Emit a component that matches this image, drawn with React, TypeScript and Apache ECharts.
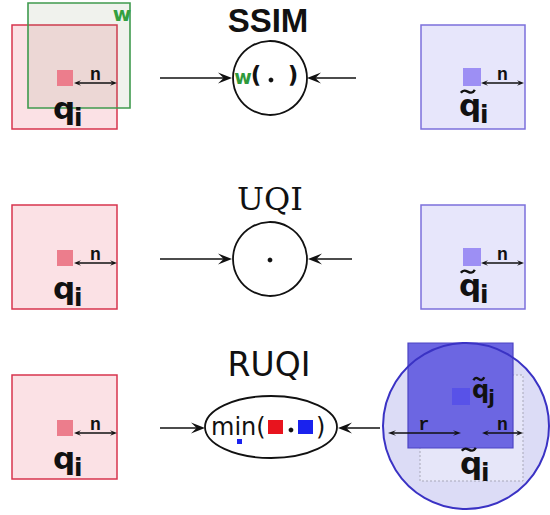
import React, { useEffect, useRef } from "react";
import * as echarts from "echarts";

// ---- diagram content ----
const measureNames = ["SSIM", "UQI", "RUQI"];
const refSymbol = "q";
const refIndex = "i";
const neighbourIndex = "j";
const windowLabel = "w";
const halfSizeLabel = "n";
const radiusLabel = "r";
const minLabel = "min(";
const closeParen = ")";

const INK = "#111111";
const RED_EDGE = "#d8344e";
const RED_FILL = "#fbe1e5";
const RED_DOT = "#ec7d8c";
const BLUE_EDGE = "#7c70dc";
const BLUE_FILL = "#e7e6fb";
const BLUE_DOT = "#9d8ff4";
const SANS = "DejaVu Sans";

function line(x1: number, y1: number, x2: number, y2: number, w = 1.5, color = INK): any {
  return { type: "line", shape: { x1, y1, x2, y2 }, style: { stroke: color, lineWidth: w } };
}

function head(tx: number, ty: number, dir: number, L = 13, W = 5): any {
  return {
    type: "polygon",
    shape: { points: [[tx, ty], [tx - dir * L, ty - W], [tx - dir * L * 0.6, ty], [tx - dir * L, ty + W]] },
    style: { fill: INK },
  };
}

function arrow(x1: number, x2: number, y: number): any[] {
  const dir = x2 > x1 ? 1 : -1;
  return [line(x1, y, x2 - dir * 6, y, 1.6), head(x2, y, dir, 14, 5.5)];
}

function dblArrow(x1: number, x2: number, y: number, label: string): any[] {
  return [
    line(x1 + 3, y, x2 - 3, y, 1.3),
    head(x1, y, -1, 7, 2.8),
    head(x2, y, 1, 7, 2.8),
    {
      type: "text",
      x: (x1 + x2) / 2,
      y: y - 8,
      style: { text: label, fill: INK, fontFamily: "Liberation Mono", fontWeight: "bold", fontSize: 18, textAlign: "center", textVerticalAlign: "middle" },
    },
  ];
}

function text(x: number, y: number, t: string, size: number, opts: any = {}): any {
  return {
    type: "text",
    x,
    y,
    style: {
      text: t,
      fill: opts.fill || INK,
      fontFamily: opts.family || SANS,
      fontWeight: opts.weight || "normal",
      fontSize: size,
      textAlign: opts.align || "center",
      textVerticalAlign: "middle",
    },
  };
}

// q symbol: x0 = left of q, top = top of bowl
function qSym(x0: number, top: number, size: number, sub: string, tilde: boolean): any[] {
  const out: any[] = [];
  const cy = top + size * 0.2 + 2;
  out.push(text(x0, cy, refSymbol, size, { weight: "bold", align: "left" }));
  out.push(text(x0 + size * 0.68, cy + size * 0.3, sub, size * 0.8, { weight: "bold", align: "left" }));
  if (tilde) {
    const w = size * 0.45;
    const tx = x0 + size * 0.06;
    const ty = top - size * 0.2;
    out.push({
      type: "bezierCurve",
      shape: { x1: tx, y1: ty + 2, cpx1: tx + w * 0.35, cpy1: ty - 5, cpx2: tx + w * 0.65, cpy2: ty + 7, x2: tx + w, y2: ty - 1 },
      style: { stroke: INK, lineWidth: 2.4, fill: "none" },
    });
  }
  return out;
}

function rect(x: number, y: number, w: number, h: number, fill: string, stroke: string, lw = 1.5, dash?: number[]): any {
  return { type: "rect", shape: { x, y, width: w, height: h }, style: { fill, stroke, lineWidth: lw, lineDash: dash } };
}

function buildElements(): any[] {
  const els: any[] = [];
  const rowTop = [25, 205, 375];
  const circleY = [78, 259, 427];

  // ---------- left (reference) squares ----------
  rowTop.forEach((t, k) => {
    els.push(rect(12, t, 105, 104, RED_FILL, RED_EDGE, 1.5));
    if (k === 0) {
      els.push(rect(28, 3, 102, 105, "rgba(120,140,90,0.11)", "#3f9a4e", 1.6));
      els.push(text(122, 14, windowLabel, 20, { weight: "bold", fill: "#33a040" }));
    }
    els.push(rect(57, t + 45, 16, 16, RED_DOT, "none", 0));
    els.push(...dblArrow(74, 117, t + 58, halfSizeLabel));
    els.push(...qSym(53, t + 75, 31, refIndex, false));
  });

  // ---------- right (distorted) squares, rows 1-2 ----------
  [25, 205].forEach((t) => {
    els.push(rect(421, t, 104, 104, BLUE_FILL, BLUE_EDGE, 1.5));
    els.push(rect(463, t + 43, 18, 18, BLUE_DOT, "none", 0));
    els.push(...dblArrow(481, 524, t + 58, halfSizeLabel));
    els.push(...qSym(459, t + 72, 31, refIndex, true));
  });

  // ---------- titles ----------
  els.push(text(268, 20, measureNames[0], 33, { weight: "bold", family: "Liberation Sans" }));
  els.push(text(270, 199, measureNames[1], 32, { family: "DejaVu Serif" }));
  els.push(text(269, 364, measureNames[2], 33, { family: SANS }));

  // ---------- SSIM ----------
  els.push({ type: "circle", shape: { cx: 270, cy: circleY[0], r: 37 }, style: { fill: "#ffffff", stroke: INK, lineWidth: 1.8 } });
  els.push(text(243, 77, windowLabel, 19, { weight: "bold", fill: "#2f9a3c" }));
  els.push(text(256, 75, "(", 23, { weight: "bold" }));
  els.push({ type: "circle", shape: { cx: 271, cy: 80, r: 2.4 }, style: { fill: INK } });
  els.push(text(293, 75, ")", 23, { weight: "bold" }));
  els.push(...arrow(160, 232, 78));
  els.push(...arrow(356, 307, 78));

  // ---------- UQI ----------
  els.push({ type: "circle", shape: { cx: 270, cy: circleY[1], r: 37 }, style: { fill: "#ffffff", stroke: INK, lineWidth: 1.8 } });
  els.push({ type: "circle", shape: { cx: 270, cy: 260, r: 2.4 }, style: { fill: INK } });
  els.push(...arrow(160, 232, 259));
  els.push(...arrow(352, 308, 259));

  // ---------- RUQI ----------
  els.push({ type: "ellipse", shape: { cx: 271, cy: circleY[2], rx: 66, ry: 31 }, style: { fill: "#ffffff", stroke: INK, lineWidth: 1.8 } });
  els.push(text(211, 427, minLabel, 24, { align: "left", weight: "500" }));
  els.push(rect(268, 420, 15, 14, "#e8141e", "none", 0));
  els.push({ type: "circle", shape: { cx: 291, cy: 430, r: 2.4 }, style: { fill: INK } });
  els.push(rect(298, 420, 15, 14, "#1a22ee", "none", 0));
  els.push(text(316, 427, closeParen, 24, { align: "left" }));
  els.push(rect(237, 439, 5, 5, "#1a22ee", "none", 0));
  els.push(...arrow(160, 205, 428));
  els.push(...arrow(380, 338, 428));

  // ---------- RUQI neighbourhood ----------
  els.push({ type: "circle", shape: { cx: 466, cy: 426, r: 83 }, style: { fill: "#dcdcf6", stroke: "none" } });
  els.push(rect(420, 375, 103, 106, "#e6e6f9", "#a8a8b8", 1, [2, 2]));
  els.push(rect(408, 343, 105, 105, "#6c66e2", "#4c44c4", 1.2));
  els.push(rect(452, 388, 18, 17, "#5852e8", "none", 0));
  els.push(...qSym(472, 383, 24, neighbourIndex, true));
  els.push({ type: "circle", shape: { cx: 466, cy: 426, r: 83 }, style: { fill: "none", stroke: "#3a32c4", lineWidth: 2 } });
  els.push(line(391, 433, 456, 433, 1.3));
  els.push(head(388, 433, -1, 8, 2.8));
  els.push(head(461, 433, 1, 8, 2.8));
  els.push(text(424, 425, radiusLabel, 18, { weight: "bold", family: "Liberation Mono" }));
  els.push(...dblArrow(482, 523, 433, halfSizeLabel));
  els.push(...qSym(460, 455, 31, refIndex, true));

  return els;
}

export default function App() {
  const ref = useRef<HTMLDivElement>(null);
  useEffect(() => {
    document.body.style.margin = "0";
    const chart = echarts.init(ref.current as HTMLDivElement, null, { renderer: "svg" });
    chart.setOption({
      animation: false,
      backgroundColor: "#ffffff",
      graphic: { elements: buildElements() },
    });
    return () => chart.dispose();
  }, []);
  return <div ref={ref} style={{ position: "absolute", left: 0, top: 0, width: 550, height: 515 }} />;
}
